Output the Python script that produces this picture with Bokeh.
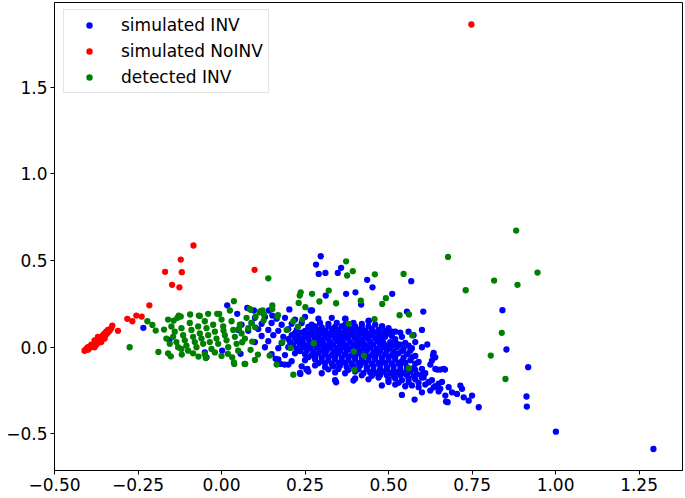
from bokeh.plotting import figure
from bokeh.models import Range1d, FixedTicker, Legend, LegendItem, CustomJSTickFormatter
from bokeh.embed import file_html
from bokeh.resources import INLINE

# (x, y) points
sim_inv = [
    # far / scattered points
    (1.293, -0.587), (1.001, -0.487), (0.914, -0.342), (0.913, -0.284), (0.918, -0.115),
    (0.853, -0.013), (0.841, 0.214), (0.770, -0.346), (0.750, -0.279), (0.740, -0.308),
    (0.725, -0.289), (0.720, -0.240), (0.715, -0.221), (0.705, -0.269), (0.690, -0.260),
    (0.677, -0.317), (0.672, -0.313), (0.670, -0.279), (0.655, -0.240), (0.635, -0.231),
    (0.620, -0.202), (0.605, -0.173), (0.669, -0.129), (0.665, -0.125), (0.655, -0.129),
    (0.646, -0.129), (0.640, -0.125), (0.625, -0.100), (0.630, -0.077), (0.640, -0.058),
    (0.633, -0.048), (0.635, -0.032), (0.616, 0.016), (0.600, 0.100), (0.604, 0.206),
    (0.555, 0.206), (0.568, 0.381), (0.511, 0.308), (0.452, 0.346), (0.436, 0.389),
    (0.418, 0.246), (0.401, 0.317), (0.373, 0.308), (0.312, 0.298), (0.358, 0.458),
    (0.348, 0.429), (0.311, 0.429), (0.291, 0.423), (0.283, 0.477), (0.297, 0.525),
    (0.441, 0.154), (0.481, 0.121), (0.371, 0.164), (0.267, 0.212), (0.271, 0.212),
    (0.203, 0.218), (0.142, 0.212), (0.152, 0.183), (0.097, 0.212), (0.077, 0.227),
    (0.047, 0.193), (0.017, 0.242), (-0.234, 0.112), (-0.156, 0.042), (-0.050, -0.029),
    (-0.045, -0.058), (0.002, -0.019), (0.057, -0.038), (0.162, -0.067), (0.177, -0.096),
    (0.236, -0.154), (0.257, -0.125), (0.343, -0.202), (0.395, -0.192), (0.235, -0.148),
    (0.254, -0.129), (0.189, -0.100), (0.540, -0.275), (0.578, -0.302), (0.600, -0.260),
    (0.625, -0.250), (0.650, -0.255),
    # dense band
    (0.10, 0.17), (0.13, 0.175), (0.165, 0.165), (0.19, 0.17), (0.22, 0.16), (0.25, 0.175),
    (0.29, 0.165), (0.33, 0.17), (0.37, 0.165), (0.44, 0.15), (0.48, 0.12),
    (0.06, 0.13), (0.09, 0.14), (0.12, 0.135), (0.15, 0.14), (0.18, 0.13), (0.21, 0.135),
    (0.24, 0.14), (0.27, 0.13), (0.295, 0.14), (0.32, 0.135), (0.345, 0.14), (0.37, 0.13),
    (0.395, 0.14), (0.42, 0.135), (0.46, 0.13), (0.50, 0.11), (0.52, 0.09),
    (0.05, 0.10), (0.08, 0.095), (0.11, 0.105), (0.14, 0.10), (0.17, 0.095), (0.20, 0.105),
    (0.225, 0.10), (0.25, 0.095), (0.27, 0.105), (0.29, 0.10), (0.31, 0.095), (0.33, 0.105),
    (0.35, 0.10), (0.37, 0.095), (0.39, 0.105), (0.41, 0.10), (0.43, 0.095), (0.45, 0.105),
    (0.47, 0.10), (0.49, 0.095), (0.51, 0.09), (0.535, 0.085), (0.56, 0.09),
    (0.12, 0.065), (0.155, 0.07), (0.185, 0.06), (0.21, 0.07), (0.23, 0.065), (0.25, 0.06),
    (0.27, 0.07), (0.29, 0.065), (0.31, 0.06), (0.33, 0.07), (0.35, 0.065), (0.37, 0.06),
    (0.39, 0.07), (0.41, 0.065), (0.43, 0.06), (0.45, 0.07), (0.47, 0.065), (0.49, 0.06),
    (0.51, 0.065), (0.54, 0.06), (0.575, 0.07),
    (0.10, 0.03), (0.14, 0.035), (0.18, 0.025), (0.205, 0.03), (0.225, 0.035), (0.245, 0.025),
    (0.265, 0.03), (0.285, 0.035), (0.305, 0.025), (0.325, 0.03), (0.345, 0.035), (0.365, 0.025),
    (0.385, 0.03), (0.405, 0.035), (0.425, 0.025), (0.445, 0.03), (0.465, 0.035), (0.485, 0.025),
    (0.505, 0.03), (0.525, 0.02), (0.55, 0.025), (0.58, 0.03),
    (0.13, 0.0), (0.17, -0.005), (0.20, 0.0), (0.225, -0.01), (0.245, 0.0), (0.265, -0.005),
    (0.285, 0.0), (0.305, -0.01), (0.325, 0.0), (0.345, -0.005), (0.365, 0.0), (0.385, -0.01),
    (0.405, 0.0), (0.425, -0.005), (0.445, 0.0), (0.465, -0.01), (0.485, 0.0), (0.505, -0.005),
    (0.525, 0.0), (0.545, -0.01), (0.57, -0.005), (0.60, 0.0),
    (0.15, -0.04), (0.19, -0.045), (0.22, -0.035), (0.25, -0.04), (0.27, -0.045), (0.29, -0.035),
    (0.31, -0.04), (0.33, -0.045), (0.35, -0.035), (0.37, -0.04), (0.39, -0.045), (0.41, -0.035),
    (0.43, -0.04), (0.45, -0.045), (0.47, -0.035), (0.49, -0.04), (0.51, -0.045), (0.53, -0.035),
    (0.555, -0.04), (0.58, -0.05),
    (0.17, -0.07), (0.21, -0.08), (0.25, -0.075), (0.28, -0.07), (0.30, -0.08), (0.32, -0.075),
    (0.34, -0.07), (0.36, -0.08), (0.38, -0.075), (0.40, -0.07), (0.42, -0.08), (0.44, -0.075),
    (0.46, -0.07), (0.48, -0.08), (0.50, -0.075), (0.52, -0.07), (0.54, -0.08), (0.565, -0.075),
    (0.59, -0.085),
    (0.20, -0.10), (0.24, -0.11), (0.28, -0.105), (0.31, -0.115), (0.335, -0.11), (0.355, -0.105),
    (0.375, -0.115), (0.395, -0.11), (0.415, -0.105), (0.435, -0.115), (0.455, -0.11), (0.475, -0.105),
    (0.495, -0.115), (0.515, -0.11), (0.535, -0.105), (0.555, -0.115), (0.575, -0.12), (0.60, -0.125),
    (0.26, -0.14), (0.30, -0.15), (0.34, -0.145), (0.37, -0.15), (0.40, -0.14), (0.425, -0.15),
    (0.445, -0.145), (0.465, -0.15), (0.485, -0.14), (0.505, -0.15), (0.525, -0.145), (0.545, -0.15),
    (0.565, -0.14), (0.585, -0.155), (0.61, -0.15),
    (0.34, -0.19), (0.40, -0.18), (0.44, -0.185), (0.47, -0.175), (0.50, -0.185), (0.52, -0.18),
    (0.54, -0.19), (0.56, -0.18), (0.58, -0.185), (0.60, -0.175), (0.63, -0.19), (0.66, -0.20),
    (0.48, -0.22), (0.52, -0.215), (0.55, -0.225), (0.57, -0.22), (0.59, -0.23), (0.61, -0.215),
    (0.64, -0.225), (0.68, -0.23),
    # solid core of the band
    (0.26, 0.117), (0.28, 0.12), (0.30, 0.115), (0.32, 0.12), (0.34, 0.117), (0.36, 0.12),
    (0.38, 0.115), (0.40, 0.12), (0.42, 0.117), (0.44, 0.12),
    (0.22, 0.082), (0.24, 0.085), (0.26, 0.08), (0.28, 0.085), (0.30, 0.082), (0.32, 0.08),
    (0.34, 0.085), (0.36, 0.082), (0.38, 0.08), (0.40, 0.085), (0.42, 0.082), (0.44, 0.08),
    (0.46, 0.085), (0.48, 0.082), (0.50, 0.08),
    (0.20, 0.047), (0.22, 0.05), (0.24, 0.045), (0.26, 0.047), (0.28, 0.05), (0.30, 0.045),
    (0.32, 0.047), (0.34, 0.05), (0.36, 0.045), (0.38, 0.047), (0.40, 0.05), (0.42, 0.045),
    (0.44, 0.047), (0.46, 0.05), (0.48, 0.045), (0.52, 0.047),
    (0.215, 0.013), (0.235, 0.015), (0.255, 0.01), (0.275, 0.013), (0.295, 0.015), (0.315, 0.01),
    (0.335, 0.013), (0.355, 0.015), (0.375, 0.01), (0.395, 0.013), (0.415, 0.015), (0.435, 0.01),
    (0.455, 0.013), (0.475, 0.015), (0.495, 0.01), (0.515, 0.013), (0.535, 0.015), (0.56, 0.01),
    (0.235, -0.022), (0.255, -0.02), (0.275, -0.025), (0.295, -0.022), (0.315, -0.02), (0.335, -0.025),
    (0.355, -0.022), (0.375, -0.02), (0.395, -0.025), (0.415, -0.022), (0.435, -0.02), (0.455, -0.025),
    (0.475, -0.022), (0.495, -0.02), (0.515, -0.025), (0.54, -0.022), (0.565, -0.02),
    (0.26, -0.057), (0.28, -0.055), (0.30, -0.06), (0.32, -0.057), (0.34, -0.055), (0.36, -0.06),
    (0.38, -0.057), (0.40, -0.055), (0.42, -0.06), (0.44, -0.057), (0.46, -0.055), (0.48, -0.06),
    (0.50, -0.057), (0.52, -0.055), (0.545, -0.06), (0.57, -0.057),
    (0.29, -0.092), (0.31, -0.09), (0.33, -0.095), (0.35, -0.092), (0.37, -0.09), (0.39, -0.095),
    (0.41, -0.092), (0.43, -0.09), (0.45, -0.095), (0.47, -0.092), (0.49, -0.09), (0.51, -0.095),
    (0.53, -0.092), (0.55, -0.09), (0.58, -0.095),
    (0.32, -0.127), (0.35, -0.125), (0.38, -0.13), (0.41, -0.127), (0.435, -0.125), (0.455, -0.13),
    (0.475, -0.127), (0.495, -0.125), (0.515, -0.13), (0.535, -0.127), (0.555, -0.125), (0.58, -0.13),
    (0.42, -0.162), (0.45, -0.165), (0.475, -0.16), (0.495, -0.162), (0.515, -0.165), (0.535, -0.16),
    (0.555, -0.162), (0.575, -0.165), (0.60, -0.16),
    (0.50, -0.20), (0.53, -0.205), (0.56, -0.20), (0.59, -0.205), (0.62, -0.20), (0.65, -0.21),
]

sim_noinv = [
    (0.748, 1.862), (0.099, 0.447), (-0.084, 0.587), (-0.122, 0.506), (-0.169, 0.435),
    (-0.119, 0.433), (-0.148, 0.360), (-0.126, 0.346), (-0.216, 0.242), (-0.239, 0.177),
    (-0.255, 0.183), (-0.267, 0.150), (-0.282, 0.164), (-0.310, 0.095), (-0.327, 0.125),
    (-0.410, -0.020), (-0.405, -0.010), (-0.400, -0.015), (-0.400, 0.000), (-0.395, -0.005),
    (-0.390, 0.005), (-0.390, 0.015), (-0.385, 0.010), (-0.380, 0.020), (-0.380, 0.000),
    (-0.375, 0.030), (-0.375, 0.015), (-0.370, 0.040), (-0.370, 0.025), (-0.365, 0.035),
    (-0.365, 0.050), (-0.360, 0.045), (-0.360, 0.060), (-0.355, 0.055), (-0.355, 0.070),
    (-0.350, 0.065), (-0.350, 0.080), (-0.345, 0.075), (-0.345, 0.090), (-0.340, 0.085),
    (-0.340, 0.100), (-0.335, 0.095), (-0.330, 0.110), (-0.360, 0.030), (-0.370, 0.060),
    (-0.380, 0.040), (-0.350, 0.050),
]

det_inv = [
    (0.882, 0.673), (0.678, 0.521), (0.946, 0.431), (0.816, 0.385), (0.886, 0.360),
    (0.731, 0.329), (0.839, 0.083), (0.806, -0.048), (0.850, -0.183),
    (0.373, 0.496), (0.393, 0.439), (0.376, 0.414), (0.459, 0.421), (0.545, 0.423),
    (0.321, 0.327), (0.271, 0.308), (0.237, 0.317), (0.234, 0.298), (0.293, 0.264),
    (0.251, 0.231), (0.343, 0.254), (0.417, 0.269), (0.481, 0.250), (0.492, 0.283),
    (0.533, 0.185), (0.561, 0.189), (0.458, 0.162), (0.381, 0.135), (0.242, 0.160),
    (0.571, 0.068), (0.276, 0.023), (0.396, -0.025), (0.426, -0.048), (0.398, -0.131),
    (0.561, -0.121), (0.140, 0.398), (0.231, 0.256), (0.037, 0.266), (0.152, 0.241),
    (0.087, 0.216), (0.117, 0.208), (0.127, 0.189), (0.102, 0.177), (0.167, 0.177),
    (0.215, 0.150), (0.229, 0.119), (0.195, 0.100), (0.182, 0.029), (0.207, -0.004),
    (0.144, -0.048), (0.165, -0.100), (0.215, -0.158), (0.069, -0.096), (0.100, -0.073),
    (0.109, -0.042), (0.087, -0.015), (0.092, 0.033), (0.062, 0.029), (0.037, -0.087),
    (0.032, -0.058), (0.038, -0.096), (0.019, -0.038), (0.071, -0.096),
    (-0.275, 0.000), (-0.222, 0.150), (-0.207, 0.129), (-0.197, 0.096), (-0.172, 0.102),
    (-0.189, -0.027), (-0.160, -0.035), (-0.152, -0.052), (-0.119, -0.042), (-0.132, 0.170),
    (-0.122, 0.177), (-0.094, 0.189), (-0.068, 0.183), (-0.040, 0.193), (-0.013, 0.193),
    (-0.047, -0.062), (-0.069, -0.054), (-0.143, 0.154), (-0.128, 0.183), (-0.065, 0.181),
    (-0.007, 0.192), (0.025, 0.212), (0.084, 0.221), (0.114, 0.202), (0.123, 0.212),
    (0.152, 0.221), (0.169, 0.185), (0.126, 0.154), (0.101, 0.115), (0.052, 0.106),
    (0.006, 0.096),
    (-0.150, 0.120), (-0.140, 0.090), (-0.145, 0.060), (-0.135, 0.030), (-0.130, 0.000),
    (-0.120, 0.110), (-0.115, 0.070), (-0.110, 0.040), (-0.105, 0.010), (-0.100, -0.020),
    (-0.095, 0.140), (-0.090, 0.100), (-0.085, 0.060), (-0.080, 0.030), (-0.075, 0.000),
    (-0.070, 0.120), (-0.065, 0.080), (-0.060, 0.050), (-0.055, 0.020), (-0.050, 0.150),
    (-0.045, 0.110), (-0.040, 0.070), (-0.035, 0.030), (-0.030, -0.010), (-0.025, 0.130),
    (-0.020, 0.090), (-0.015, 0.050), (-0.010, 0.020), (0.000, 0.160), (0.005, 0.120),
    (0.010, 0.070), (0.015, 0.040), (0.020, 0.000), (0.030, 0.150), (0.035, 0.100),
    (0.040, 0.060), (0.045, 0.020), (0.055, 0.130), (0.060, 0.080), (0.070, 0.050),
    (0.075, 0.170), (0.080, 0.110), (0.090, 0.140), (-0.160, 0.160), (-0.165, 0.050),
    (-0.155, 0.020), (-0.120, -0.010), (-0.085, -0.035), (-0.050, -0.040), (-0.020, -0.030),
    (0.000, -0.050), (0.050, -0.020),
]

series_names = ["simulated INV", "simulated NoINV", "detected INV"]
series_colors = ["#0000ff", "#ff0000", "#008000"]
series_data = [sim_inv, sim_noinv, det_inv]

x_ticks = [-0.5, -0.25, 0.0, 0.25, 0.5, 0.75, 1.0, 1.25]
x_tick_labels = ["\u22120.50", "\u22120.25", "0.00", "0.25", "0.50", "0.75", "1.00", "1.25"]
y_ticks = [-0.5, 0.0, 0.5, 1.0, 1.5]
y_tick_labels = ["\u22120.5", "0.0", "0.5", "1.0", "1.5"]

FONT = "DejaVu Sans"

p = figure(width=685, height=498, output_backend="svg", toolbar_location=None,
           x_range=Range1d(-0.5, 1.38), y_range=Range1d(-0.711, 1.989),
           min_border_left=54, min_border_right=3, min_border_top=2, min_border_bottom=28)
p.grid.visible = False
p.outline_line_color = "black"
p.outline_line_width = 1
p.background_fill_color = "white"
p.border_fill_color = "white"

lookup = ("const i = tvals.findIndex(t => Math.abs(t - tick) < 1e-9); "
          "return i >= 0 ? tlabels[i] : '';")
p.xaxis.ticker = FixedTicker(ticks=x_ticks)
p.xaxis.formatter = CustomJSTickFormatter(args=dict(tvals=x_ticks, tlabels=x_tick_labels), code=lookup)
p.yaxis.ticker = FixedTicker(ticks=y_ticks)
p.yaxis.formatter = CustomJSTickFormatter(args=dict(tvals=y_ticks, tlabels=y_tick_labels), code=lookup)

for ax in (p.xaxis, p.yaxis):
    ax.axis_line_color = "black"
    ax.axis_line_width = 1
    ax.major_tick_in = 0
    ax.major_tick_out = 4
    ax.major_tick_line_color = "black"
    ax.minor_tick_line_color = None
    ax.major_label_text_font = FONT
    ax.major_label_text_font_size = "17px"
    ax.major_label_text_color = "black"
    ax.major_label_standoff = 3

items = []
for name, color, pts in zip(series_names, series_colors, series_data):
    xs = [pt[0] for pt in pts]
    ys = [pt[1] for pt in pts]
    r = p.scatter(xs, ys, size=6.3, fill_color=color, line_color=None)
    items.append(LegendItem(label=name, renderers=[r]))

legend = Legend(items=items, location=(9, 377), margin=0,
                label_text_font=FONT, label_text_font_size="17px", label_text_color="black",
                glyph_width=40, glyph_height=16, label_height=20, label_standoff=12,
                spacing=6, padding=5,
                border_line_color="#cccccc", border_line_width=1,
                background_fill_color="white", background_fill_alpha=0.8)
p.add_layout(legend)

open("out.html", "w").write(file_html(p, INLINE))
